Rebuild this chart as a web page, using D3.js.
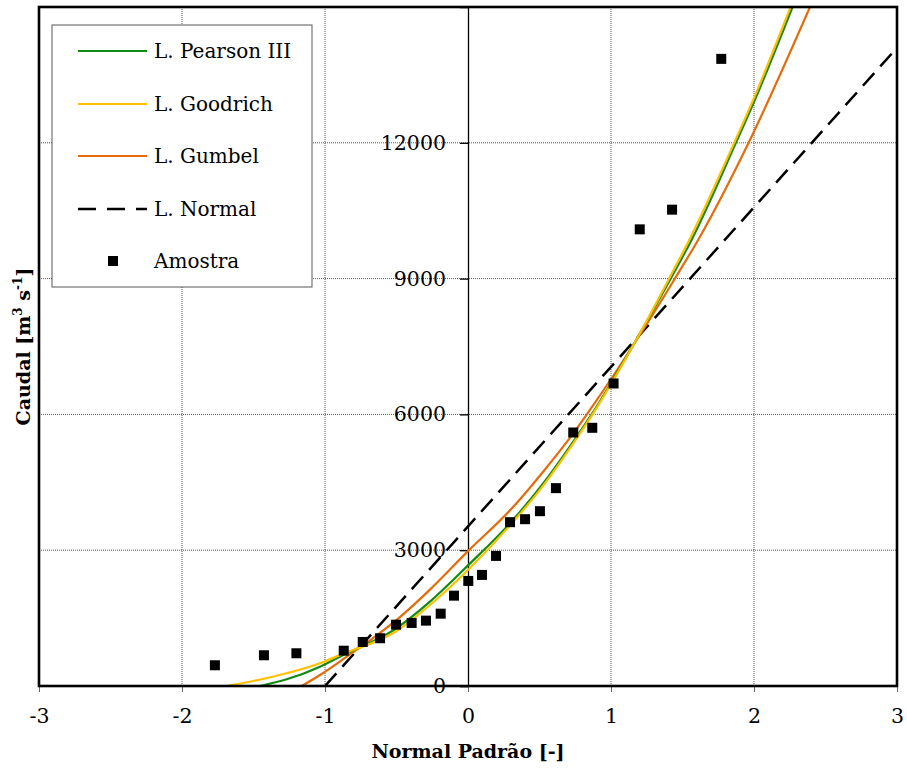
<!DOCTYPE html>
<html>
<head>
<meta charset="utf-8">
<script src="https://cdn.jsdelivr.net/npm/d3@7"></script>
<style>
  html, body { margin: 0; padding: 0; background: #fff; }
  svg { display: block; }
  text { font-family: "DejaVu Serif", serif; fill: #000; }
</style>
</head>
<body>
<svg id="chart" width="907" height="769"></svg>
<script>
// Sample (Amostra): standard normal variate and discharge
const sampleZ = [-1.77, -1.427, -1.200, -0.869, -0.736, -0.615, -0.503, -0.394, -0.294, -0.191, -0.098, 0.002,
                 0.098, 0.196, 0.294, 0.399, 0.503, 0.615, 0.736, 0.869, 1.018, 1.201, 1.427, 1.771];
const sampleQ = [458, 679, 723, 780, 973, 1055, 1355, 1393, 1444, 1598, 1996, 2321,
                 2454, 2874, 3619, 3685, 3862, 4371, 5600, 5704, 6683, 10088, 10523, 13854];

// Fitted distributions
const pearsonZ = [-1.455, -1.268, -1.035, -0.895, -0.5, -0.266, 0, 0.294, 0.527, 0.76, 0.9, 1.203, 1.417, 1.564, 1.874, 2.007, 2.271];
const pearsonQ = [0, 148, 427, 648, 1276, 1864, 2664, 3597, 4481, 5511, 6175, 7797, 8998, 9860, 12004, 12955, 15011];

const goodrichZ = [-1.69, -1.501, -1.268, -1.035, -0.895, -0.499, -0.266, 0, 0.294, 0.527, 0.76, 0.902, 1.203, 1.406, 1.548, 1.862, 1.995, 2.257];
const goodrichQ = [0, 111, 281, 502, 685, 1216, 1790, 2564, 3548, 4432, 5471, 6157, 7797, 8998, 9860, 12004, 12955, 15011];

const gumbelZ = [-1.163, -1.035, -0.825, -0.685, -0.499, -0.266, 0, 0.294, 0.527, 0.736, 0.853, 1.203, 1.441, 1.61, 1.965, 2.397];
const gumbelQ = [0, 243, 700, 1010, 1460, 2130, 2980, 3880, 4740, 5580, 6100, 7760, 8970, 9860, 12020, 15040];

const normalZ = [-1.0, 3.0];
const normalQ = [0, 14100];

const xTicks = [-3, -2, -1, 0, 1, 2, 3];
const yTicks = [0, 3000, 6000, 9000, 12000];

const seriesNames = ["L. Pearson III", "L. Goodrich", "L. Gumbel", "L. Normal", "Amostra"];
const seriesColors = ["#138a13", "#ffc000", "#e46c0a", "#000000", "#000000"];

const svg = d3.select("#chart");
const plot = { left: 39, right: 897, top: 7, bottom: 686 };

const x = d3.scaleLinear().domain([-3, 3]).range([plot.left, plot.right]);
const y = d3.scaleLinear().domain([0, 15000]).range([plot.bottom, plot.top]);

svg.append("defs").append("clipPath").attr("id", "plotClip")
  .append("rect")
  .attr("x", plot.left).attr("y", plot.top)
  .attr("width", plot.right - plot.left).attr("height", plot.bottom - plot.top);

// Dotted grid
const grid = svg.append("g").attr("class", "grid");
grid.selectAll("line.gx").data(xTicks.filter(v => v !== 0 && v !== -3 && v !== 3)).join("line")
  .attr("class", "gx")
  .attr("x1", d => x(d)).attr("x2", d => x(d))
  .attr("y1", plot.top).attr("y2", plot.bottom)
  .attr("stroke", "#555").attr("stroke-width", 1).attr("stroke-dasharray", "1,1");
grid.selectAll("line.gy").data(yTicks.filter(v => v !== 0)).join("line")
  .attr("class", "gy")
  .attr("x1", plot.left).attr("x2", plot.right)
  .attr("y1", d => y(d)).attr("y2", d => y(d))
  .attr("stroke", "#555").attr("stroke-width", 1).attr("stroke-dasharray", "1,1");

// Vertical value axis at z = 0
const yAxis = d3.axisLeft(y).tickValues(yTicks).tickSize(8).tickPadding(14).tickFormat(d3.format("d"));
const gy = svg.append("g").attr("transform", `translate(${x(0)},0)`).call(yAxis);
gy.select(".domain").attr("stroke", "#000").attr("stroke-width", 1.3);
gy.selectAll(".tick line").attr("stroke", "#000").attr("stroke-width", 1.3);
gy.selectAll(".tick text").attr("font-family", "DejaVu Serif").attr("font-size", 20.5).attr("fill", "#000");

// Bottom axis
const xAxis = d3.axisBottom(x).tickValues(xTicks).tickSize(6).tickPadding(16).tickFormat(d => String(d));
const gx = svg.append("g").attr("transform", `translate(0,${plot.bottom})`).call(xAxis);
gx.select(".domain").remove();
gx.selectAll(".tick line").attr("stroke", "#666").attr("stroke-width", 1);
gx.selectAll(".tick text").attr("font-family", "DejaVu Serif").attr("font-size", 20.5).attr("fill", "#000");

// Legend
const legend = svg.append("g").attr("class", "legend");
legend.append("rect")
  .attr("x", 52).attr("y", 25).attr("width", 260).attr("height", 262)
  .attr("fill", "#fff").attr("stroke", "#595959").attr("stroke-width", 1);
const rowY = [51, 104, 156, 209, 261];
seriesNames.forEach((name, i) => {
  const g = legend.append("g").attr("transform", `translate(0,${rowY[i]})`);
  if (i < 4) {
    g.append("line").attr("x1", 78).attr("x2", 147).attr("y1", 0).attr("y2", 0)
      .attr("stroke", seriesColors[i]).attr("stroke-width", i === 3 ? 2.5 : 2.2)
      .attr("stroke-dasharray", i === 3 ? "18,11" : null);
  } else {
    g.append("rect").attr("x", 108).attr("y", -5).attr("width", 10).attr("height", 10).attr("fill", "#000");
  }
  g.append("text").attr("x", 154).attr("y", 0).attr("dy", "0.35em")
    .attr("font-size", 20).text(name);
});

// Curves
const line = d3.line().x(d => x(d[0])).y(d => y(d[1])).curve(d3.curveMonotoneX);
const curves = svg.append("g").attr("clip-path", "url(#plotClip)");
const curveData = [
  { z: normalZ, q: normalQ, color: seriesColors[3], width: 2.5, dash: "17,9" },
  { z: gumbelZ, q: gumbelQ, color: seriesColors[2], width: 2.2 },
  { z: pearsonZ, q: pearsonQ, color: seriesColors[0], width: 2.2 },
  { z: goodrichZ, q: goodrichQ, color: seriesColors[1], width: 2.2 }
];
curveData.forEach(c => {
  curves.append("path")
    .datum(d3.zip(c.z, c.q))
    .attr("d", line)
    .attr("fill", "none")
    .attr("stroke", c.color)
    .attr("stroke-width", c.width)
    .attr("stroke-dasharray", c.dash || null);
});

// Sample points
svg.append("g").selectAll("rect").data(d3.zip(sampleZ, sampleQ)).join("rect")
  .attr("x", d => x(d[0]) - 5).attr("y", d => y(d[1]) - 5)
  .attr("width", 10).attr("height", 10).attr("fill", "#000");

// Plot frame
svg.append("rect")
  .attr("x", plot.left).attr("y", plot.top)
  .attr("width", plot.right - plot.left).attr("height", plot.bottom - plot.top)
  .attr("fill", "none").attr("stroke", "#000").attr("stroke-width", 2.6);

// Axis titles
svg.append("text")
  .attr("x", x(0)).attr("y", 758)
  .attr("text-anchor", "middle").attr("font-weight", "bold").attr("font-size", 19)
  .text("Normal Padrão [-]");

const yTitle = svg.append("text")
  .attr("transform", `translate(30,${(plot.top + plot.bottom) / 2}) rotate(-90)`)
  .attr("text-anchor", "middle").attr("font-weight", "bold").attr("font-size", 19);
yTitle.append("tspan").text("Caudal [m");
yTitle.append("tspan").attr("font-size", 12).attr("dy", -8).text("3");
yTitle.append("tspan").attr("dy", 8).text(" s");
yTitle.append("tspan").attr("font-size", 12).attr("dy", -8).text("-1");
yTitle.append("tspan").attr("dy", 8).text("]");
</script>
</body>
</html>
